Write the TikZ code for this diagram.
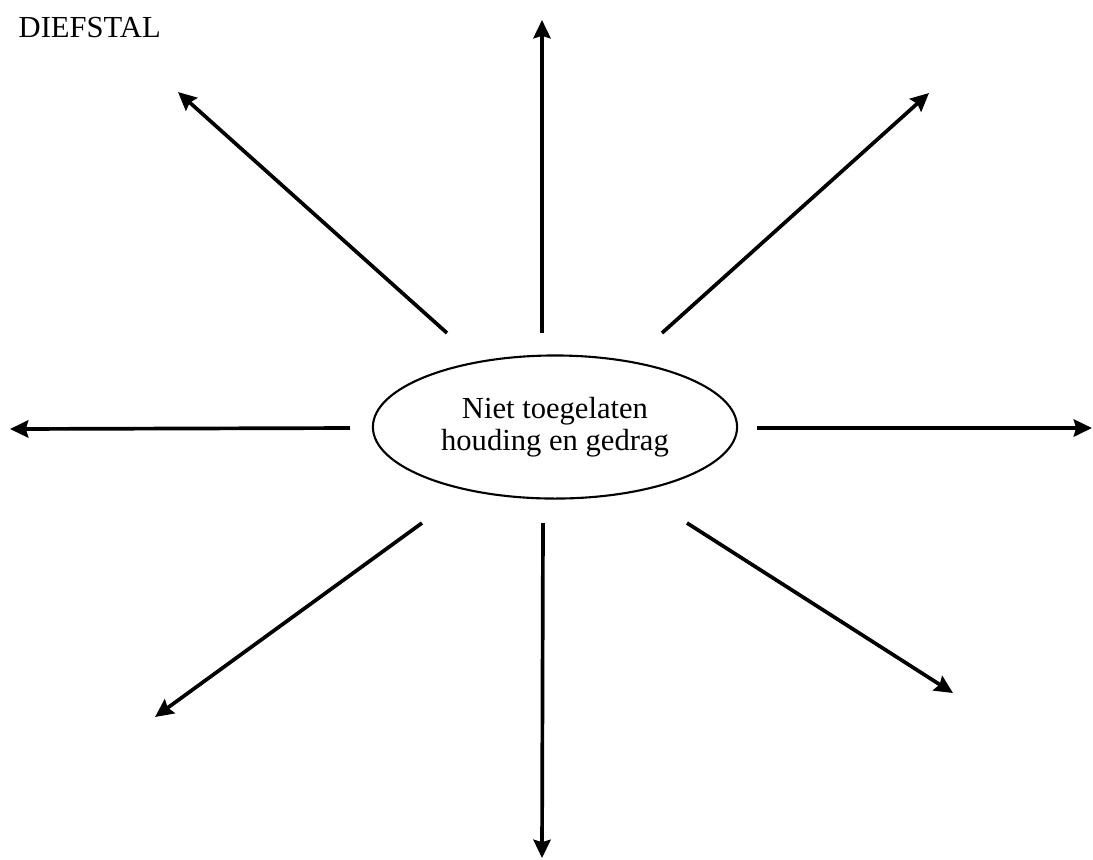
\documentclass[tikz,border=0pt]{standalone}
\usepackage{fontspec}
\setmainfont{Liberation Serif}
\usetikzlibrary{shapes.geometric,arrows.meta}

\begin{document}
\begin{tikzpicture}[x=0.01cm, y=-0.01cm,
    every node/.style={font=\fontsize{8.7}{7.9}\selectfont, align=center},
    spoke/.style={line width=1.05pt, -{Stealth[length=5.2pt, width=4.9pt, inset=0.7pt]}}]
    \useasboundingbox (0,0) rectangle (1093,859);
    \node (title) [anchor=base west, inner sep=0pt] at (18,37) {DIEFSTAL};
    \node (centre) [ellipse, draw, line width=0.6pt, minimum width=3.64cm, minimum height=1.43cm, inner sep=0pt] at (555,427) {Niet toegelaten\\houding en gedrag};
    % start points of the spokes
    \coordinate (n0) at (542,333);
    \coordinate (ne0) at (662,333);
    \coordinate (e0) at (757,428);
    \coordinate (se0) at (687,523);
    \coordinate (s0) at (543,523);
    \coordinate (sw0) at (422,523);
    \coordinate (w0) at (350,428);
    \coordinate (nw0) at (447,333);
    % tips
    \coordinate (n1) at (542,20);
    \coordinate (ne1) at (929,93);
    \coordinate (e1) at (1092,428);
    \coordinate (se1) at (953,693);
    \coordinate (s1) at (542,858);
    \coordinate (sw1) at (155,717);
    \coordinate (w1) at (10,429);
    \coordinate (nw1) at (178,92);
    \draw[spoke] (n0) -- (n1);
    \draw[spoke] (ne0) -- (ne1);
    \draw[spoke] (e0) -- (e1);
    \draw[spoke] (se0) -- (se1);
    \draw[spoke] (s0) -- (s1);
    \draw[spoke] (sw0) -- (sw1);
    \draw[spoke] (w0) -- (w1);
    \draw[spoke] (nw0) -- (nw1);
\end{tikzpicture}
\end{document}
